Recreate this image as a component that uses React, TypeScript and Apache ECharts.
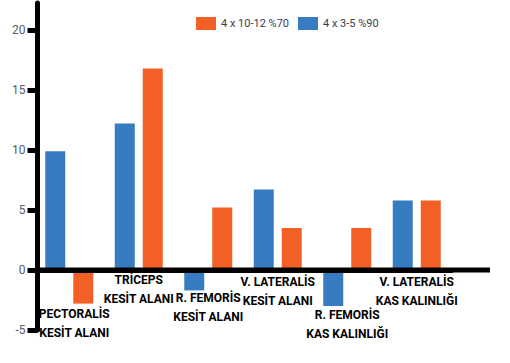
import React, { useEffect, useRef } from "react";
import * as echarts from "echarts";

const categories = [
  "PECTORALİS\nKESİT ALANI",
  "TRİCEPS\nKESİT ALANI",
  "R. FEMORİS\nKESİT ALANI",
  "V. LATERALİS\nKESİT ALANI",
  "R. FEMORİS\nKAS KALINLIĞI",
  "V. LATERALİS\nKAS KALINLIĞI",
];
const orangeName = "4 x 10-12 %70";
const blueName = "4 x 3-5 %90";
const blueValues = [9.9, 12.2, -1.7, 6.7, -3.0, 5.8];
const orangeValues = [-2.8, 16.8, 5.2, 3.5, 3.5, 5.8];
const yTicks = [-5, 0, 5, 10, 15, 20];

// label offsets (layout only): [top, left]
const labelPad = [
  [34, 10],
  [0, 0],
  [18, 0],
  [2, 0],
  [35, 0],
  [2, 0],
];

const FONT = "'Liberation Sans Narrow', Roboto, sans-serif";

export default function App() {
  const ref = useRef<HTMLDivElement>(null);
  useEffect(() => {
    if (!ref.current) return;
    const chart = echarts.init(ref.current, null, { renderer: "svg" });
    const option: any = {
      animation: false,
      backgroundColor: "#ffffff",
      grid: {
        left: 34.5,
        width: 417,
        top: 3,
        bottom: 33,
        containLabel: false,
        outerBoundsMode: "none",
      },
      legend: {
        data: [orangeName, blueName],
        left: 196,
        top: 17,
        padding: 0,
        itemWidth: 20,
        itemHeight: 13,
        itemGap: 9,
        icon: "rect",
        textStyle: { fontFamily: FONT, fontSize: 11, color: "#3a3d4c" },
      },
      xAxis: {
        type: "category",
        z: 5,
        data: categories.map((c, i) => ({
          value: c,
          textStyle: { padding: [labelPad[i][0], 0, 0, labelPad[i][1]] },
        })),
        axisLine: { show: true, onZero: false, lineStyle: { color: "#000", width: 5 } },
        axisTick: { show: false },
        axisLabel: {
          interval: 0,
          margin: 0,
          fontFamily: FONT,
          fontWeight: "bold",
          fontSize: 12,
          lineHeight: 19,
          color: "#000",
          align: "center",
        },
        splitLine: { show: false },
      },
      yAxis: {
        type: "value",
        min: -5,
        max: 22.25,
        interval: 5,
        offset: -3,
        z: 5,
        axisLine: { show: true, lineStyle: { color: "#000", width: 5 } },
        axisTick: {
          show: true,
          customValues: yTicks,
          length: 10,
          lineStyle: { color: "#000", width: 5 },
        },
        axisLabel: {
          customValues: yTicks,
          margin: 12,
          fontFamily: FONT,
          fontSize: 12,
          color: "#555a66",
        },
        splitLine: { show: false },
      },
      series: [
        {
          name: blueName,
          type: "bar",
          data: blueValues,
          barWidth: 20,
          barGap: "40%",
          itemStyle: { color: "#377BC0" },
        },
        {
          name: orangeName,
          type: "bar",
          data: orangeValues,
          barWidth: 20,
          barGap: "40%",
          itemStyle: { color: "#F26025" },
        },
      ],
    };
    chart.setOption(option);
    const y0 = chart.convertToPixel({ yAxisIndex: 0 }, 0) as number;
    const yBottom = chart.convertToPixel({ yAxisIndex: 0 }, -5) as number;
    chart.setOption({
      xAxis: { offset: y0 - yBottom },
      graphic: [
        {
          type: "line",
          z: 10,
          shape: { x1: 35, y1: y0, x2: 490, y2: y0 },
          style: { stroke: "#000", lineWidth: 5 },
        },
      ],
    });
    return () => chart.dispose();
  }, []);
  return (
    <div
      ref={ref}
      style={{ position: "fixed", left: 0, top: 0, width: 510, height: 363 }}
    />
  );
}
